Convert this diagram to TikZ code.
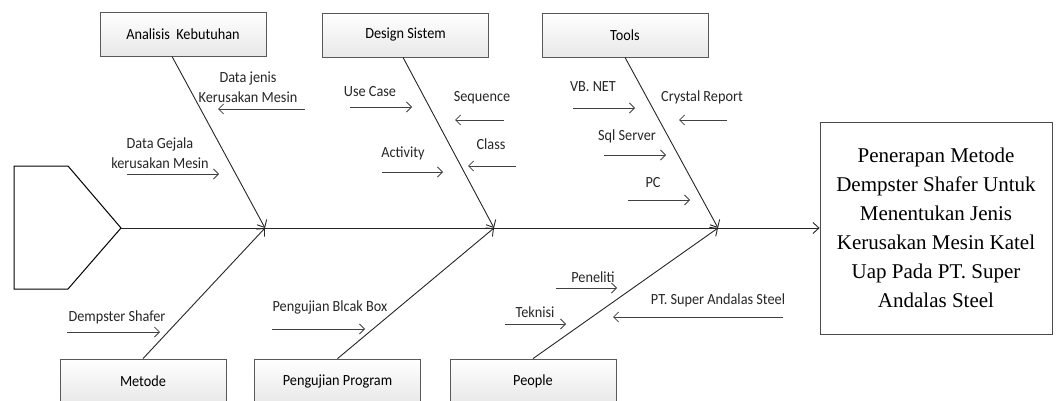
\documentclass[tikz,border=0pt]{standalone}
\usepackage{fontspec}
\setmainfont{Liberation Serif}
\newfontfamily\lblfont[FakeStretch=0.92]{Carlito}
\usetikzlibrary{arrows.meta}
\newcommand{\smallarr}[4]{%
  \coordinate (#1-s) at (#2,#4);
  \coordinate (#1-e) at (#3,#4);
  \draw[sarr] (#1-s) -- (#1-e);}
\begin{document}
\begin{tikzpicture}[x=1pt,y=-1pt,
  catbox/.style={draw=black!65, line width=0.8pt, top color=white, bottom color=black!9,
    minimum width=166pt, minimum height=44pt, inner sep=0pt,
    font=\lblfont\fontsize{15.5}{18}\selectfont},
  bone/.style={draw=black!85, line width=0.9pt, -{Straight Barb[length=6pt,width=11pt]}},
  sarr/.style={draw=black!75, line width=0.8pt, -{Straight Barb[length=5pt,width=10pt]}},
  lbl/.style={font=\lblfont\fontsize{15.5}{20}\selectfont, inner sep=0pt, text=black!85},
  lbl1/.style={lbl, text height=10pt, text depth=0pt},
  lbl2/.style={lbl, align=center}
]
\useasboundingbox (0,0) rectangle (1056,401);
\clip (0,0) rectangle (1056,401);

% head shape
\draw[line width=1pt] (14,166) -- (68,166) -- (121,228) -- (68,289) -- (14,289) -- cycle;
\coordinate (head) at (121,228);

% result box
\node[draw=black!70, line width=0.8pt, minimum width=232pt, minimum height=212pt, inner sep=0pt,
  align=center, font=\fontsize{21}{29}\selectfont] (res) at (936,228)
  {Penerapan Metode\\Dempster Shafer Untuk\\Menentukan Jenis\\Kerusakan Mesin Katel\\Uap Pada PT. Super\\Andalas Steel};

% category boxes
\node[catbox] (ana) at (183,34) {Analisis\ \ Kebutuhan};
\node[catbox] (des) at (405.5,35) {Design Sistem};
\node[catbox] (tool) at (625,35) {Tools};
\node[catbox] (met) at (143,381) {Metode};
\node[catbox] (uji) at (337.5,381) {Pengujian Program};
\node[catbox] (ppl) at (533,381) {People};

% junctions
\coordinate (j1) at (265,228);
\coordinate (j2) at (494,228);
\coordinate (j3) at (718,228);

% spine
\draw[bone] (head) -- (res.west);

% bones
\draw[bone] ([xshift=-11pt]ana.south) -- (j1);
\draw[bone] ([xshift=-2.5pt]des.south) -- (j2);
\draw[bone] (tool.south) -- (j3);
\draw[bone] (met.north) -- (j1);
\draw[bone] (uji.north) -- (j2);
\draw[bone] (ppl.north) -- (j3);

% small cause arrows
\smallarr{a1}{305}{218}{109}
\smallarr{a2}{127}{219}{174}
\smallarr{a3}{350}{412}{107}
\smallarr{a4}{504}{455}{120}
\smallarr{a5}{382}{443}{172}
\smallarr{a6}{516}{468}{166}
\smallarr{a7}{573}{635}{108}
\smallarr{a8}{727}{679}{120}
\smallarr{a9}{604}{666}{155}
\smallarr{a10}{628}{690}{200}
\smallarr{a11}{67}{160}{332}
\smallarr{a12}{272}{365}{329}
\smallarr{a13}{556}{617}{288}
\smallarr{a14}{505}{566}{324}
\smallarr{a15}{783}{613}{317}

% labels
\node[lbl2] (t1) at (248,87) {Data jenis\\Kerusakan Mesin};
\node[lbl2] (t2) at (160,153) {Data Gejala\\kerusakan Mesin};
\node[lbl1] (t3) at (370,92) {Use Case};
\node[lbl1] (t4) at (482,97) {Sequence};
\node[lbl1] (t5) at (403,152) {Activity};
\node[lbl1] (t6) at (491,144) {Class};
\node[lbl1] (t7) at (593,87) {VB. NET};
\node[lbl1] (t8) at (702,97) {Crystal Report};
\node[lbl1] (t9) at (627,135) {Sql Server};
\node[lbl1] (t10) at (653,182) {PC};
\node[lbl1] (t11) at (117,316) {Dempster Shafer};
\node[lbl1] (t12) at (330,306) {Pengujian Blcak Box};
\node[lbl1] (t13) at (593,277) {Peneliti};
\node[lbl1] (t14) at (535,312) {Teknisi};
\node[lbl1] (t15) at (718,299) {PT. Super Andalas Steel};
\end{tikzpicture}
\end{document}
